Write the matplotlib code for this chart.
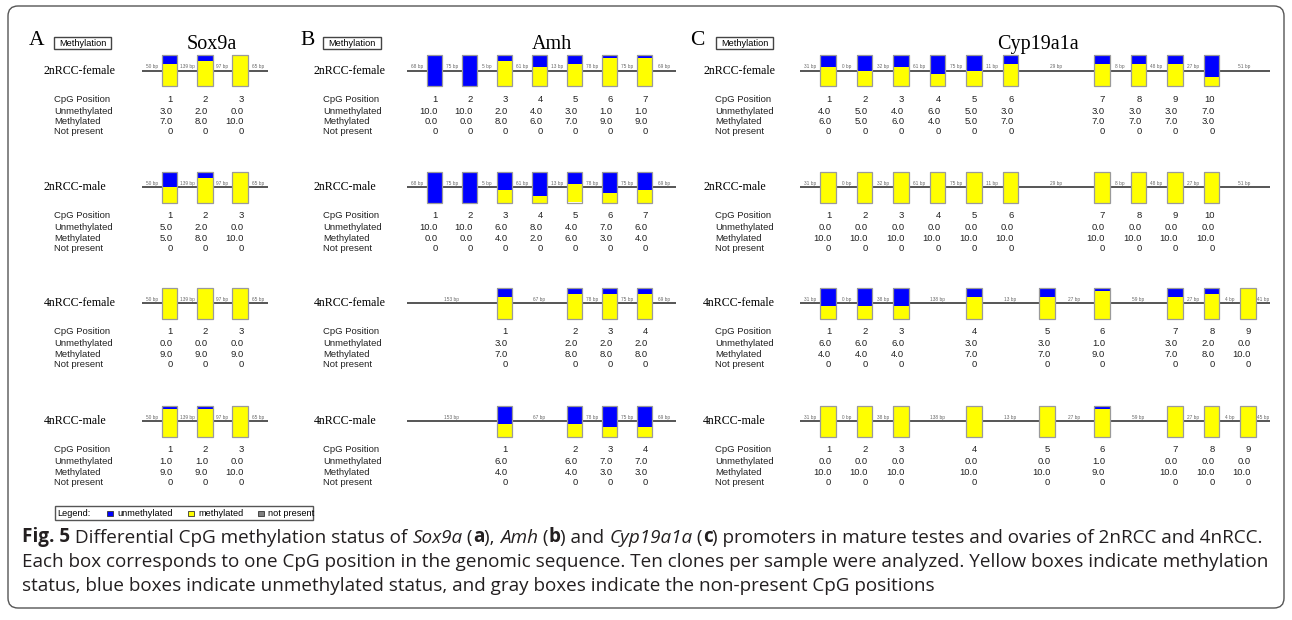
import matplotlib
matplotlib.use("Agg")
import matplotlib.pyplot as plt
from matplotlib.patches import Rectangle, FancyBboxPatch

# ---------------- data ----------------
SAMPLES = ["2nRCC-female", "2nRCC-male", "4nRCC-female", "4nRCC-male"]
ROW_NAMES = ["CpG Position", "Unmethylated", "Methylated", "Not present"]

# Sox9a
sox9a_bp = [["50 bp", "139 bp", "97 bp", "65 bp"]] * 4
sox9a_unmeth = [[3, 2, 0], [5, 2, 0], [0, 0, 0], [1, 1, 0]]
sox9a_meth = [[7, 8, 10], [5, 8, 10], [9, 9, 9], [9, 9, 10]]
sox9a_np = [[0, 0, 0], [0, 0, 0], [0, 0, 0], [0, 0, 0]]

# Amh
amh_bp = [["68 bp", "75 bp", "5 bp", "61 bp", "13 bp", "78 bp", "75 bp", "69 bp"],
          ["68 bp", "75 bp", "5 bp", "61 bp", "13 bp", "78 bp", "75 bp", "69 bp"],
          ["153 bp", "67 bp", "78 bp", "75 bp", "69 bp"],
          ["153 bp", "67 bp", "78 bp", "75 bp", "69 bp"]]
amh_unmeth = [[10, 10, 2, 4, 3, 1, 1], [10, 10, 6, 8, 4, 7, 6], [3, 2, 2, 2], [6, 6, 7, 7]]
amh_meth = [[0, 0, 8, 6, 7, 9, 9], [0, 0, 4, 2, 6, 3, 4], [7, 8, 8, 8], [4, 4, 3, 3]]
amh_np = [[0] * 7, [0] * 7, [0] * 4, [0] * 4]

# Cyp19a1a
cyp_bp = [["31 bp", "0 bp", "32 bp", "61 bp", "75 bp", "11 bp", "29 bp", "8 bp", "48 bp", "27 bp", "51 bp"],
          ["31 bp", "0 bp", "32 bp", "61 bp", "75 bp", "11 bp", "29 bp", "8 bp", "48 bp", "27 bp", "51 bp"],
          ["31 bp", "0 bp", "38 bp", "138 bp", "13 bp", "27 bp", "59 bp", "27 bp", "4 bp", "41 bp"],
          ["31 bp", "0 bp", "38 bp", "138 bp", "13 bp", "27 bp", "59 bp", "27 bp", "4 bp", "45 bp"]]
cyp_unmeth = [[4, 5, 4, 6, 5, 3, 3, 3, 3, 7], [0] * 10,
              [6, 6, 6, 3, 3, 1, 3, 2, 0], [0, 0, 0, 0, 0, 1, 0, 0, 0]]
cyp_meth = [[6, 5, 6, 4, 5, 7, 7, 7, 7, 3], [10] * 10,
            [4, 4, 4, 7, 7, 9, 7, 8, 10], [10, 10, 10, 10, 10, 9, 10, 10, 10]]
cyp_np = [[0] * 10, [0] * 10, [0] * 9, [0] * 9]

CAPTION_1 = [("Fig. 5", "bold", "normal"),
             (" Differential CpG methylation status of ", "normal", "normal"),
             ("Sox9a", "normal", "italic"), (" (", "normal", "normal"),
             ("a", "bold", "normal"), ("), ", "normal", "normal"),
             ("Amh", "normal", "italic"), (" (", "normal", "normal"),
             ("b", "bold", "normal"), (") and ", "normal", "normal"),
             ("Cyp19a1a", "normal", "italic"), (" (", "normal", "normal"),
             ("c", "bold", "normal"),
             (") promoters in mature testes and ovaries of 2nRCC and 4nRCC.", "normal", "normal")]
CAPTION_2 = ("Each box corresponds to one CpG position in the genomic sequence. Ten clones per sample "
             "were analyzed. Yellow boxes indicate methylation")
CAPTION_3 = ("status, blue boxes indicate unmethylated status, and gray boxes indicate the non-present "
             "CpG positions")

# ---------------- layout ----------------
W, H = 1292, 620
BLUE, YELLOW, GREY = "#0000ff", "#ffff00", "#808080"
SANS = "Liberation Sans"
SERIF = "Liberation Serif"
ROW_Y = [70.5, 187.0, 303.0, 421.0]
BAR_W, BAR_H = 15.5, 31.0
TXT_DY = [28.5, 41.0, 51.3, 61.5]

panels = [
    dict(letter="A", gene="Sox9a", letter_x=29, box_x=(54, 111), title_x=212, label_x=44, text_x=54,
         x0=169.5, pitch=35.3, line=(142, 268), slots=[[0, 1, 2]] * 4,
         bp=sox9a_bp, u=sox9a_unmeth, m=sox9a_meth, n=sox9a_np),
    dict(letter="B", gene="Amh", letter_x=300, box_x=(323, 381), title_x=552, label_x=314, text_x=323,
         x0=434.5, pitch=35.0, line=(407, 676),
         slots=[list(range(7)), list(range(7)), [2, 4, 5, 6], [2, 4, 5, 6]],
         bp=amh_bp, u=amh_unmeth, m=amh_meth, n=amh_np),
    dict(letter="C", gene="Cyp19a1a", letter_x=690, box_x=(716, 773), title_x=1038, label_x=703, text_x=715,
         x0=828, pitch=36.5, line=(800, 1270),
         slots=[[0, 1, 2, 3, 4, 5, 7.5, 8.5, 9.5, 10.5]] * 2 + [[0, 1, 2, 4, 6, 7.5, 9.5, 10.5, 11.5]] * 2,
         bp=cyp_bp, u=cyp_unmeth, m=cyp_meth, n=cyp_np),
]

fig = plt.figure(figsize=(W / 100, H / 100), dpi=100)
ax = fig.add_axes([0, 0, 1, 1])
ax.set_xlim(0, W)
ax.set_ylim(H, 0)
ax.axis("off")

# outer rounded frame
ax.add_patch(FancyBboxPatch((8, 6), W - 16, 602, boxstyle="round,pad=0,rounding_size=10",
                            fc="none", ec="#555555", lw=1.0))

for p in panels:
    ax.text(p["letter_x"], 45, p["letter"], family=SERIF, fontsize=15.5, ha="left", va="baseline")
    bx0, bx1 = p["box_x"]
    ax.add_patch(Rectangle((bx0, 37), bx1 - bx0, 11.5, fc="white", ec="#444444", lw=1.0))
    ax.text((bx0 + bx1) / 2, 43, "Methylation", family=SANS, fontsize=6.6, ha="center", va="center")
    ax.text(p["title_x"], 49, p["gene"], family=SERIF, fontsize=14.5, ha="center", va="baseline")

    for r, yl in enumerate(ROW_Y):
        ax.text(p["label_x"], yl, SAMPLES[r], family=SERIF, fontsize=8.6, ha="left", va="center")
        for k, name in enumerate(ROW_NAMES):
            ax.text(p["text_x"], yl + TXT_DY[k], name, family=SANS, fontsize=6.8,
                    ha="left", va="center", color="#222222")
        # backbone line
        ax.plot(list(p["line"]), [yl, yl], color="#555555", lw=1.4, zorder=1, solid_capstyle="butt")
        xs = [p["x0"] + s * p["pitch"] for s in p["slots"][r]]
        u, m, n = p["u"][r], p["m"][r], p["n"][r]
        tot = [a + b + c for a, b, c in zip(u, m, n)]
        fu = [a / t * BAR_H for a, t in zip(u, tot)]
        fm = [b / t * BAR_H for b, t in zip(m, tot)]
        fn = [c / t * BAR_H for c, t in zip(n, tot)]
        top = yl - BAR_H / 2
        ax.bar(xs, fu, width=BAR_W, bottom=top, color=BLUE, lw=0, zorder=2)
        ax.bar(xs, fm, width=BAR_W, bottom=[top + a for a in fu], color=YELLOW, lw=0, zorder=2)
        ax.bar(xs, fn, width=BAR_W, bottom=[top + a + b for a, b in zip(fu, fm)], color=GREY, lw=0, zorder=2)
        ax.bar(xs, [BAR_H] * len(xs), width=BAR_W, bottom=top, fill=False,
               edgecolor="#9a9a9a", lw=0.9, zorder=3)
        # bp labels in the gaps
        edges = [p["line"][0]] + [e for x in xs for e in (x - BAR_W / 2, x + BAR_W / 2)] + [p["line"][1]]
        for j, lab in enumerate(p["bp"][r]):
            gx = (edges[2 * j] + edges[2 * j + 1]) / 2
            ax.text(gx, yl - 3.8, lab, family=SANS, fontsize=3.4, ha="center", va="center", color="#666666")
        # value rows
        for j, x in enumerate(xs):
            vals = [f"{j + 1}", f"{u[j]:.1f}", f"{m[j]:.1f}", f"{n[j]:d}"]
            for k, v in enumerate(vals):
                ax.text(x + 3.3, yl + TXT_DY[k], v, family=SANS, fontsize=6.8,
                        ha="right", va="center", color="#222222")

# legend box
ax.add_patch(Rectangle((55, 506), 258, 14, fc="white", ec="#555555", lw=1.0))
ax.text(57, 513, "Legend:", family=SANS, fontsize=6.6, ha="left", va="center")
for sx, col, lab in [(107, BLUE, "unmethylated"), (188, YELLOW, "methylated"), (258, GREY, "not present")]:
    ax.add_patch(Rectangle((sx, 510.5), 5.5, 5.5, fc=col, ec="#333333", lw=0.6))
    ax.text(sx + 10, 513, lab, family=SANS, fontsize=6.6, ha="left", va="center")

# caption
CAP_FONT = "Open Sans"
CAP_SIZE = 13.6
CAP_COLOR = "#231f20"
prev = ax.text(22, 547, CAPTION_1[0][0], family=CAP_FONT, fontsize=CAP_SIZE, fontweight=CAPTION_1[0][1],
               fontstyle=CAPTION_1[0][2], ha="left", va="bottom", color=CAP_COLOR)
for s, wt, st in CAPTION_1[1:]:
    prev = ax.annotate(s, xy=(1, 0), xycoords=prev, ha="left", va="bottom", family=CAP_FONT,
                       fontsize=CAP_SIZE, fontweight=wt, fontstyle=st, color=CAP_COLOR)
ax.text(22, 571, CAPTION_2, family=CAP_FONT, fontsize=CAP_SIZE, ha="left", va="bottom", color=CAP_COLOR)
ax.text(22, 595, CAPTION_3, family=CAP_FONT, fontsize=CAP_SIZE, ha="left", va="bottom", color=CAP_COLOR)

fig.savefig("out.png", dpi=100)
